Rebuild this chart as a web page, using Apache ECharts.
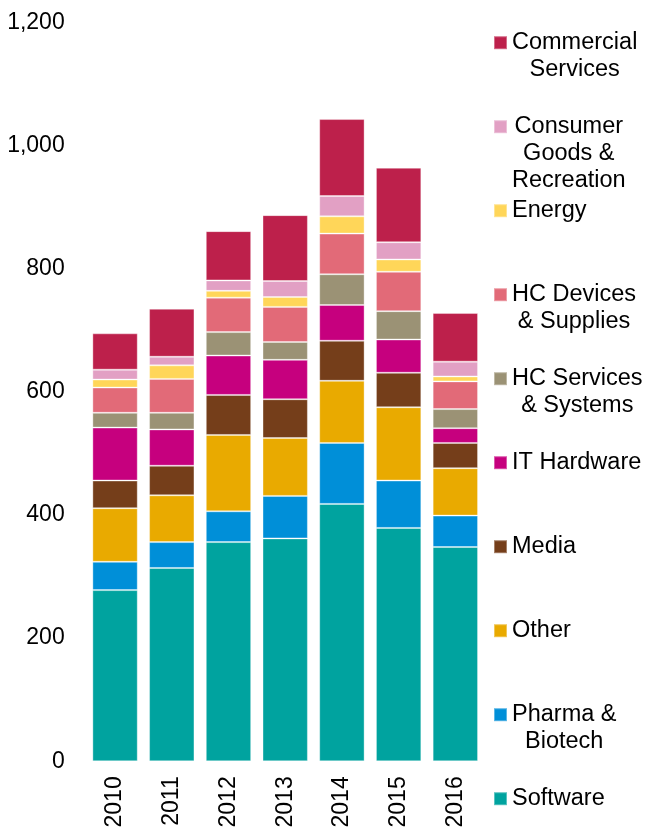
<!DOCTYPE html>
<html>
<head>
<meta charset="utf-8">
<script src="https://cdn.jsdelivr.net/npm/echarts@6/dist/echarts.min.js"></script>
<style>
html,body{margin:0;padding:0;background:#fff;}
#chart{width:645px;height:831px;}
</style>
</head>
<body>
<div id="chart"></div>
<script>
const years = ['2010','2011','2012','2013','2014','2015','2016'];
const yTicks = [0, 200, 400, 600, 800, 1000, 1200];

const software    = [278, 314, 356, 362, 418, 379, 348];
const pharma      = [46, 42, 50, 69, 99, 77, 51];
const other       = [87, 76, 124, 94, 101, 119, 77];
const media       = [45, 48, 65, 63, 65, 56, 41];
const itHardware  = [86, 59, 64, 64, 58, 54, 24];
const hcServices  = [24, 27, 38, 29, 50, 46, 31];
const hcDevices   = [41, 55, 56, 57, 66, 64, 45];
const energy      = [13, 22, 11, 16, 28, 20, 8];
const consumer    = [16, 14, 17, 26, 33, 28, 24];
const commercial  = [59, 78, 80, 107, 125, 121, 79];

const seriesNames = ['Software','Pharma & Biotech','Other','Media','IT Hardware','HC Services & Systems','HC Devices & Supplies','Energy','Consumer Goods & Recreation','Commercial Services'];
const legendLabels = ['Software','Pharma &\nBiotech','Other','Media','IT Hardware','HC Services\n& Systems','HC Devices\n& Supplies','Energy','Consumer\nGoods &\nRecreation','Commercial\nServices'];
const seriesData = [software, pharma, other, media, itHardware, hcServices, hcDevices, energy, consumer, commercial];
const colors = ['#00a39f','#008fd8','#e9aa00','#753e1a','#c6007e','#9b9275','#e26a78','#ffd659','#e2a0c4','#bd204b'];

const FONT = 'Liberation Sans, Arial, sans-serif';
const FS = 23;
const LFS = 23.5;
const LH = 27;

const chart = echarts.init(document.getElementById('chart'));

const legendTop0 = 42.7, legendStep = 84.0;
const legends = [];
for (let k = 0; k < seriesNames.length; k++) {
  const idx = seriesNames.length - 1 - k;
  const label = legendLabels[idx];
  const n = label.split('\n').length;
  const yc = legendTop0 + k * legendStep;
  legends.push({
    data: [{name: seriesNames[idx], textStyle: {padding: [(n - 1) * LH, 0, 0, 0]}}],
    orient: 'vertical',
    left: 493,
    top: yc - (2 * n - 1) * LH / 2,
    padding: 0,
    itemWidth: 13,
    itemHeight: 13,
    icon: 'rect',
    selectedMode: false,
    formatter: function () {
      return label.split('\n').map(s => '{c|' + s + '}').join('\n');
    },
    textStyle: {
      fontFamily: FONT, fontSize: LFS, color: '#000', lineHeight: LH,
      rich: {c: {align: 'center', fontFamily: FONT, fontSize: LFS, color: '#000', lineHeight: LH}}
    }
  });
}

const series = seriesNames.map((name, i) => ({
  name: name,
  type: 'bar',
  stack: 'total',
  data: seriesData[i],
  barCategoryGap: '20%',
  itemStyle: {color: colors[i], borderColor: 'rgba(255,255,255,0.35)', borderWidth: 1},
  emphasis: {disabled: true}
}));

chart.setOption({
  animation: false,
  backgroundColor: '#fff',
  legend: legends,
  grid: {left: 86.7, width: 397, top: 22.4, bottom: 69.7, containLabel: false},
  xAxis: {
    type: 'category',
    data: years,
    axisLine: {show: false},
    axisTick: {show: false},
    axisLabel: {rotate: 90, margin: 15, fontFamily: FONT, fontSize: FS, color: '#000'}
  },
  yAxis: {
    type: 'value',
    min: yTicks[0],
    max: yTicks[yTicks.length - 1],
    interval: yTicks[1] - yTicks[0],
    splitLine: {show: false},
    axisLine: {show: false},
    axisTick: {show: false},
    axisLabel: {
      margin: 22, fontFamily: FONT, fontSize: FS, color: '#000',
      formatter: v => v.toLocaleString('en-US')
    }
  },
  series: series
});
</script>
</body>
</html>
